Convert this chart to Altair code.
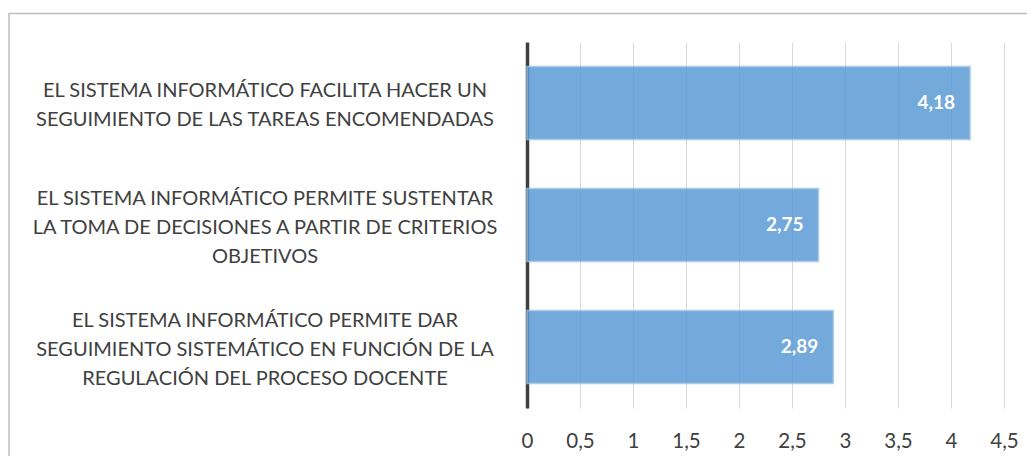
import altair as alt
import pandas as pd

categories = [
    "EL SISTEMA INFORMÁTICO FACILITA HACER UN\nSEGUIMIENTO DE LAS TAREAS ENCOMENDADAS",
    "EL SISTEMA INFORMÁTICO PERMITE SUSTENTAR\nLA TOMA DE DECISIONES A PARTIR DE CRITERIOS\nOBJETIVOS",
    "EL SISTEMA INFORMÁTICO PERMITE DAR\nSEGUIMIENTO SISTEMÁTICO EN FUNCIÓN DE LA\nREGULACIÓN DEL PROCESO DOCENTE",
]
values = [4.18, 2.75, 2.89]
value_labels = ["4,18", "2,75", "2,89"]
x_ticks = [0, 0.5, 1, 1.5, 2, 2.5, 3, 3.5, 4, 4.5]

df = pd.DataFrame({"cat": categories, "val": values, "lab": value_labels})
df["nlines"] = [c.count("\n") + 1 for c in categories]

FONT = "Lato"
W, H = 477, 366
PAD_L, PAD_T = 519, 34
LH = 29

y_enc = alt.Y("cat:N", sort=None,
              scale=alt.Scale(paddingInner=0.4, paddingOuter=0.2),
              axis=alt.Axis(title=None, labels=False, ticks=False, domain=True,
                            domainColor="#404040", domainWidth=3.5, grid=False))

bars = alt.Chart(df).mark_bar(color="#5b9bd5", opacity=0.85, stroke="#9dc3e6", strokeWidth=1.5).encode(
    x=alt.X("val:Q", scale=alt.Scale(domain=[0, 4.5], nice=False),
            axis=alt.Axis(title=None, values=x_ticks, grid=True, gridColor="#d9d9d9",
                          domain=False, ticks=False, labelPadding=23, labelFlush=False,
                          labelFontSize=20.5, labelColor="#404040", labelFont=FONT,
                          labelExpr="replace(toString(datum.value), '.', ',')")),
    y=y_enc,
)

vals = alt.Chart(df).mark_text(align="right", baseline="middle", dx=-15, color="white",
                               fontWeight="bold", fontSize=19, font=FONT).encode(
    x="val:Q", y=alt.Y("cat:N", sort=None), text="lab:N")

layers = [bars, vals]
for n in sorted(set(df["nlines"])):
    layers.append(
        alt.Chart(df).transform_filter(alt.datum.nlines == n).mark_text(
            align="center", baseline="middle", lineBreak="\n", lineHeight=LH,
            dy=-(n - 1) * LH / 2 + 2.5, fontSize=20, color="#404040", font=FONT).encode(
            x=alt.value(-262), y=alt.Y("cat:N", sort=None), text="cat:N")
    )

border = alt.Chart(pd.DataFrame({"a": [0]})).mark_rect(fill=None, stroke="#bfbfbf", strokeWidth=1.5).encode(
    x=alt.value(-PAD_L + 1), x2=alt.value(W + 60),
    y=alt.value(-PAD_T + 5.5), y2=alt.value(H + 200))

chart = alt.layer(border, *layers).properties(
    width=W, height=H,
    autosize=alt.AutoSizeParams(type="none"),
    padding={"left": PAD_L, "top": PAD_T, "right": 1035 - 16 - PAD_L - W, "bottom": 464 - 16 - PAD_T - H},
).configure_view(stroke=None)

chart.save("out.html", embed_options={"renderer": "svg", "actions": False})
